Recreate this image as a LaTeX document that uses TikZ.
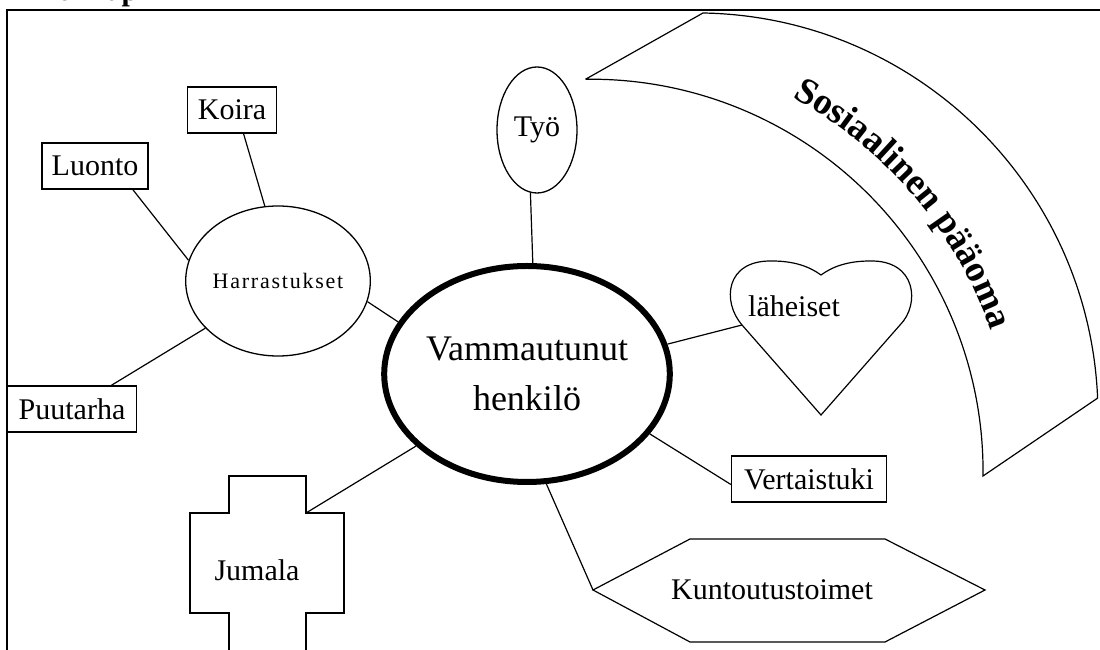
\documentclass[tikz,border=0pt]{standalone}
\usepackage{fontspec}
\setmainfont{Liberation Serif}
\newfontfamily\spacedfont[LetterSpace=8]{Liberation Serif}
\usetikzlibrary{shapes.geometric,decorations.text}

\begin{document}
\begin{tikzpicture}[x=1pt, y=1pt,
    box/.style={draw, rectangle, line width=1.3pt, minimum height=46pt, inner sep=0pt, font=\fontsize{30}{36}\selectfont},
    oval/.style={draw, ellipse, line width=1.3pt, inner sep=0pt},
    plain/.style={inner sep=0pt, font=\fontsize{30}{36}\selectfont},
    link/.style={line width=1.2pt}]
        \useasboundingbox (0,0) rectangle (1100,650);
        % Frame
        \node (title) at (4,649) [anchor=base west, inner sep=0pt, font=\fontsize{30}{36}\selectfont\bfseries] {Mind map};
        \draw[line width=2pt] (7,0) -- (7,640) -- (1100,640);
        % Band
        \draw[link] (586,571) -- (703,637) arc[start angle=89, end angle=2.4, radius=402]
            -- (983,174) arc[start angle=-0.7, end angle=90.7, radius=392] -- cycle;
        \path[decorate, decoration={text along path, text align=center,
            text={|\bfseries\fontsize{37}{37}\selectfont|Sosiaalinen pääoma}}]
            (591,179) ++(65:424) arc[start angle=65, end angle=16, radius=424];
        % Vertices
        \node (vam) at (527,276) [draw, ellipse, line width=6pt, inner sep=0pt, minimum width=270pt, minimum height=216pt, align=center, font=\fontsize{36}{50}\selectfont] {Vammautunut\\henkilö};
        \node (harr) at (278,369) [oval, minimum width=176pt, minimum height=150pt, font=\spacedfont\fontsize{22}{26}\selectfont] {Harrastukset};
        \node (koira) at (232,540) [box, minimum width=89pt] {Koira};
        \node (luonto) at (95,484) [box, minimum width=106pt] {Luonto};
        \node (puut) at (72,241) [box, minimum width=129pt] {Puutarha};
        \node (tyo) at (537,520) [oval, minimum width=80pt, minimum height=126pt, font=\fontsize{30}{36}\selectfont] {Työ};
        \node (vert) at (809,171) [box, minimum width=155pt] {Vertaistuki};
        \coordinate (lahL) at (742,325);
        \draw[link] (821,235) -- (lahL) .. controls (722,348) and (725,390) .. (772,389)
            .. controls (795,389) and (810,383) .. (821,375)
            .. controls (832,383) and (847,389) .. (870,389)
            .. controls (917,390) and (920,345) .. (900,325) -- cycle;
        \node (lah) at (748,333) [plain, anchor=base west] {läheiset};
        \coordinate (kuntL) at (593,60);
        \draw[link] (kuntL) -- (690,111) -- (885,111) -- (985,60) -- (885,8) -- (690,8) -- cycle;
        \node (kunt) at (772,60) [plain] {Kuntoutustoimet};
        \coordinate (jumC) at (306,137);
        \draw[link] (229,0) -- (229,37) -- (190,37) -- (190,137) -- (229,137) -- (229,174)
            -- (306,174) -- (jumC) -- (344,137) -- (344,37) -- (306,37) -- (306,0);
        \node (jum) at (257,80) [plain] {Jumala};
        % Edges
        \draw[link] (koira.-64) -- (harr.100);
        \draw[link] (luonto.-32) -- (harr.167);
        \draw[link] (puut.31) -- (harr.213);
        \draw[link] (harr.-13) -- (vam.158);
        \draw[link] (tyo.264) -- (vam.87);
        \draw[link] (vam.12) -- (lahL);
        \draw[link] (vam.-26) -- (vert.184);
        \draw[link] (vam.-80) -- (kuntL);
        \draw[link] (jumC) -- (vam.213);
    \end{tikzpicture}
\end{document}
